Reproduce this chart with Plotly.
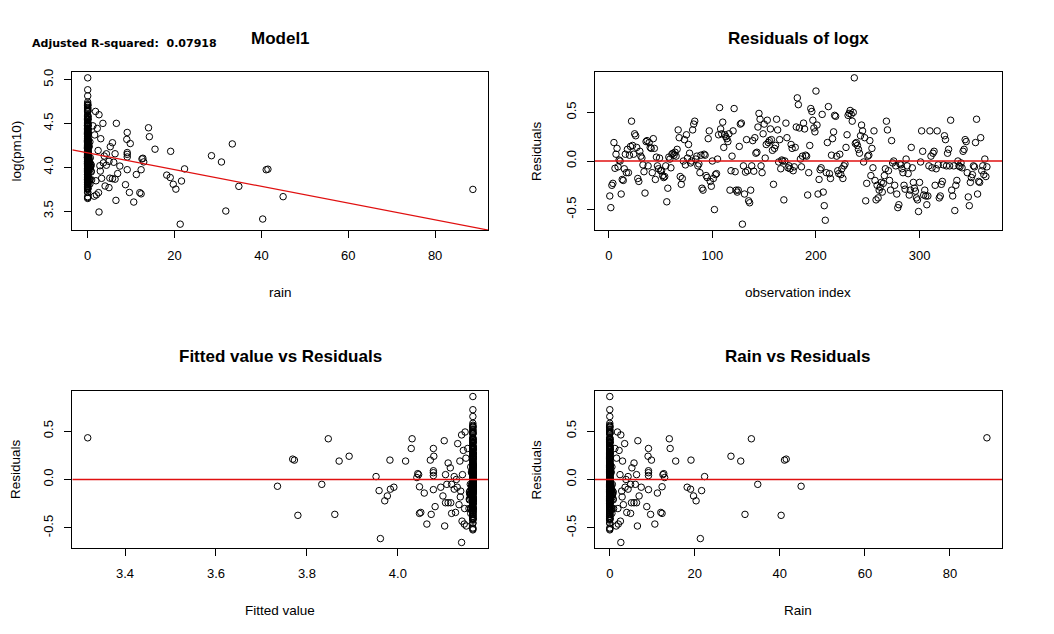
import numpy as np
import plotly.graph_objects as go

# ---------------- data ----------------
# residuals of the log(pm10) ~ rain model, in observation order (1..365)
residuals = [
    -0.36, -0.48, -0.25, -0.23, 0.19, -0.075, 0.07, 0.13, -0.06, 0.01,
    0.0, -0.34, -0.19, -0.20, -0.08, 0.07, -0.12, 0.12, -0.12, 0.06,
    0.15, 0.41, 0.16, 0.07, 0.28, 0.26, 0.14, -0.18, -0.21, 0.10,
    0.05, 0.03, -0.04, -0.11, -0.33, 0.20, 0.21, -0.05, 0.19, 0.14,
    0.13, -0.12, 0.23, 0.13, -0.19, 0.04, -0.05, -0.08, 0.03, -0.10,
    -0.10, -0.15, -0.17, -0.16, -0.05, -0.42, -0.28, 0.04, 0.02, -0.07,
    0.07, 0.08, 0.06, 0.09, 0.05, 0.12, 0.32, 0.24, -0.16, -0.24,
    -0.18, 0.0, 0.22, -0.04, 0.27, 0.03, 0.17, 0.08, -0.02, 0.0,
    0.32, 0.38, 0.41, 0.02, 0.05, -0.05, -0.03, -0.12, 0.06, -0.28,
    -0.30, 0.07, 0.06, -0.15, -0.17, 0.23, 0.31, -0.21, -0.26, 0.00,
    -0.18, -0.50, -0.14, -0.13, 0.02, 0.27, 0.55, 0.33, 0.28, 0.40,
    0.14, 0.27, 0.25, 0.23, 0.20, 0.28, -0.30, -0.10, 0.05, 0.31,
    0.54, -0.11, -0.30, -0.32, -0.30, 0.15, 0.38, 0.39, -0.65, -0.05,
    -0.34, -0.115, 0.22, -0.10, -0.41, -0.43, -0.30, -0.05, 0.21, -0.105,
    0.24, 0.08, 0.09, 0.35, 0.49, 0.43, -0.05, -0.12, 0.28, 0.38,
    0.03, 0.17, 0.42, 0.19, 0.21, 0.33, 0.22, 0.11, -0.24, 0.13,
    0.16, 0.43, 0.32, -0.01, 0.22, -0.08, 0.01, 0.00, -0.40, 0.00,
    0.39, 0.24, -0.07, -0.05, -0.08, 0.17, 0.13, -0.10, -0.06, 0.14,
    0.35, 0.65, 0.58, 0.34, 0.02, -0.06, 0.05, 0.39, 0.33, 0.06,
    0.05, -0.35, -0.12, 0.16, 0.54, 0.51, 0.42, 0.34, 0.30, 0.72,
    0.37, -0.34, -0.19, -0.09, -0.07, 0.48, -0.32, -0.46, -0.61, -0.12,
    0.19, 0.56, -0.13, -0.18, 0.06, 0.23, 0.30, 0.47, 0.46, 0.05,
    -0.10, -0.13, 0.07, -0.14, -0.08, -0.18, -0.05, -0.03, 0.14, 0.27,
    0.47, 0.49, 0.52, 0.48, 0.41, 0.50, 0.856, 0.18, 0.19, 0.16,
    0.12, 0.08, 0.26, 0.37, 0.31, -0.01, 0.24, -0.41, -0.23, 0.05,
    0.06, 0.21, -0.15, 0.13, -0.07, 0.31, -0.20, -0.40, -0.25, -0.38,
    -0.30, -0.27, -0.22, -0.32, -0.23, -0.15, -0.08, 0.41, 0.32, -0.10,
    -0.20, -0.30, 0.21, -0.02, 0.00, -0.25, -0.05, -0.34, -0.48, -0.45,
    -0.03, -0.04, -0.08, -0.12, -0.25, -0.29, 0.02, -0.05, -0.13, -0.35,
    -0.30, 0.14, -0.07, -0.22, -0.28, -0.31, -0.38, -0.40, -0.52, -0.22,
    -0.01, 0.31, 0.10, -0.35, -0.30, -0.36, -0.45, -0.36, -0.05, 0.31,
    0.05, -0.07, 0.08, 0.10, -0.25, -0.08, 0.31, -0.04, -0.38, -0.36,
    -0.24, -0.21, -0.04, 0.26, 0.22, -0.05, 0.08, 0.12, -0.05, 0.42,
    -0.30, -0.36, -0.05, -0.51, -0.25, -0.20, 0.00, -0.05, -0.06, -0.02,
    -0.07, 0.10, 0.12, 0.22, 0.20, -0.12, -0.37, -0.46, -0.22, -0.17,
    -0.14, -0.05, -0.06, 0.19, 0.43, -0.34, -0.21, -0.22, 0.24, -0.10,
    -0.05, -0.14, 0.02, -0.16, -0.06,
]

# days with rain (1-based observation index) and the rain amount on them
rain_day = [355, 60, 36, 37, 347, 38, 153, 306, 154, 141,
            151, 132, 209, 263, 53, 115, 134, 166, 5, 81,
            197, 59, 20, 31, 6, 12, 290, 103, 208, 345,
            308, 67, 68, 64, 61, 46, 140, 90, 15, 95,
            110, 2, 65, 70, 47, 77, 159, 66, 321, 192,
            86, 49, 50, 131, 201, 219, 145, 129, 211, 99,
            17, 48, 136, 348, 279, 217, 157, 85, 72, 71,
            163, 91,
            8, 24, 29, 42, 54, 62, 94, 117, 123, 137,
            147, 174, 203, 213, 225, 253, 270, 284, 304, 312,
            336, 350]
rain_mm = [88.7, 45.0, 41.1, 41.5, 40.3, 34.8, 33.3, 31.8, 30.8, 28.5,
           22.3, 21.6, 21.3, 20.3, 19.7, 19.1, 19.0, 18.2, 15.5, 14.2,
           14.0, 12.9, 12.7, 12.5, 12.3, 12.0, 12.3, 11.2, 10.6, 9.8,
           9.6, 9.1, 9.0, 9.1, 9.1, 9.1, 9.1, 8.7, 7.4, 6.9,
           6.6, 6.5, 6.3, 6.3, 6.0, 5.7, 5.7, 5.2, 5.1, 4.9,
           4.9, 4.3, 4.3, 4.0, 3.5, 2.6, 1.8, 2.6, 3.0, 3.2,
           2.8, 3.6, 2.5, 2.0, 1.5, 2.2, 1.6, 2.4, 3.8, 2.9,
           1.2, 1.9,
           0.5, 0.3, 0.8, 0.4, 0.6, 0.3, 0.7, 0.5, 0.4, 0.9,
           0.3, 0.6, 0.5, 0.8, 0.3, 0.6, 0.4, 0.7, 0.5, 0.3,
           0.8, 0.4]

# fitted regression line  log(pm10) = intercept + slope * rain
intercept = 4.165
slope = -0.00955
adj_r2_label = "0.07918"

titles = ["Model1", "Residuals of logx", "Fitted value vs Residuals", "Rain vs Residuals"]
xlabels = ["rain", "observation index", "Fitted value", "Rain"]
ylabels = ["log(pm10)", "Residuals", "Residuals", "Residuals"]

x1_ticks = [0, 20, 40, 60, 80]
y1_ticks = [3.5, 4.0, 4.5, 5.0]
x2_ticks = [0, 100, 200, 300]
x3_ticks = [3.4, 3.6, 3.8, 4.0]
res_ticks = [-0.5, 0.0, 0.5]

# ---------------- derived quantities ----------------
resid = np.array(residuals)
n = len(resid)
index = np.arange(1, n + 1)
rain = np.zeros(n)
rain[np.array(rain_day) - 1] = rain_mm
fitted = intercept + slope * rain
log_pm10 = fitted + resid


def rrange(v):
    lo, hi = float(np.min(v)), float(np.max(v))
    d = (hi - lo) * 0.04
    return [lo - d, hi + d]


OFF = 8  # page body margin
W, H = 1054 - OFF, 634 - OFF
FONT = "Liberation Sans, Arial, sans-serif"
RED = "#e01010"

# plot regions in page pixels: (left, right, top, bottom)
regions = [(72.3, 488.3, 72, 230), (594.7, 1002, 72, 230),
           (72.3, 488.3, 390.7, 548.3), (594.7, 1002, 390.7, 548.3)]
ylabel_x = [15.5, 536, 15.5, 536]

marker = dict(symbol="circle-open", size=6.5, color="black", line=dict(width=1, color="black"))

fig = go.Figure()
xs = [rain, index, fitted, rain]
ys = [log_pm10, resid, resid, resid]
tick_fmt_x = ["{:g}", "{:g}", "{:.1f}", "{:g}"]
ranges_x = [rrange(rain), rrange(index), rrange(fitted), rrange(rain)]
ranges_y = [rrange(log_pm10), rrange(resid), rrange(resid), rrange(resid)]
tick_x = [x1_ticks, x2_ticks, x3_ticks, x1_ticks]
tick_y = [y1_ticks, res_ticks, res_ticks, res_ticks]

for i in range(4):
    ax = "" if i == 0 else str(i + 1)
    fig.add_trace(go.Scatter(x=xs[i], y=ys[i], mode="markers", marker=marker,
                             xaxis="x" + ax, yaxis="y" + ax, showlegend=False,
                             hoverinfo="x+y"))
for i in range(4):
    ax = "" if i == 0 else str(i + 1)
    lx = np.array(ranges_x[i])
    ly = intercept + slope * lx if i == 0 else np.zeros(2)
    fig.add_trace(go.Scatter(x=lx, y=ly, mode="lines", line=dict(color=RED, width=1.3),
                             xaxis="x" + ax, yaxis="y" + ax, showlegend=False,
                             hoverinfo="skip"))

axis_common = dict(showline=True, mirror=True, linecolor="black", linewidth=1,
                   ticks="outside", ticklen=7, tickcolor="black", tickwidth=1,
                   showgrid=False, zeroline=False, automargin=False,
                   tickfont=dict(family=FONT, size=13, color="black"))

layout = dict(width=W, height=H, margin=dict(l=0, r=0, t=0, b=0),
              paper_bgcolor="white", plot_bgcolor="white", showlegend=False)
for i in range(4):
    l, r, t, b = [v - OFF for v in regions[i]]
    ax = "" if i == 0 else str(i + 1)
    layout["xaxis" + ax] = dict(axis_common, domain=[l / W, r / W], range=ranges_x[i],
                                tickvals=tick_x[i],
                                ticktext=[tick_fmt_x[i].format(v) for v in tick_x[i]],
                                anchor="y" + ax, ticklabelstandoff=6)
    layout["yaxis" + ax] = dict(axis_common, domain=[1 - b / H, 1 - t / H], range=ranges_y[i],
                                tickvals=tick_y[i], ticktext=[f"{v:.1f}" for v in tick_y[i]],
                                anchor="x" + ax, tickangle=-90, ticklabelstandoff=6)
fig.update_layout(**layout)


def px_annot(text, x, y, size=13, bold=False, angle=0, xanchor="center", family=FONT):
    fig.add_annotation(text=("<b>%s</b>" % text) if bold else text,
                       x=(x - OFF) / W, y=1 - (y - OFF) / H, xref="paper", yref="paper",
                       xanchor=xanchor, yanchor="middle", showarrow=False, textangle=angle,
                       font=dict(family=family, size=size, color="black"))


for i in range(4):
    l, r, t, b = regions[i]
    cx = (l + r) / 2
    cy = (t + b) / 2
    ty = 38.5 if i < 2 else 356
    px_annot(titles[i], cx, ty, size=17, bold=True)
    px_annot(xlabels[i], cx, b + 62.5, size=13.5)
    px_annot(ylabels[i], ylabel_x[i], cy, size=13.5, angle=-90)

px_annot("Adjusted R-squared:\u00a0 " + adj_r2_label, 30, 43, size=11, bold=True,
         xanchor="left", family="DejaVu Sans, Verdana, sans-serif")

fig.write_html("out.html")
